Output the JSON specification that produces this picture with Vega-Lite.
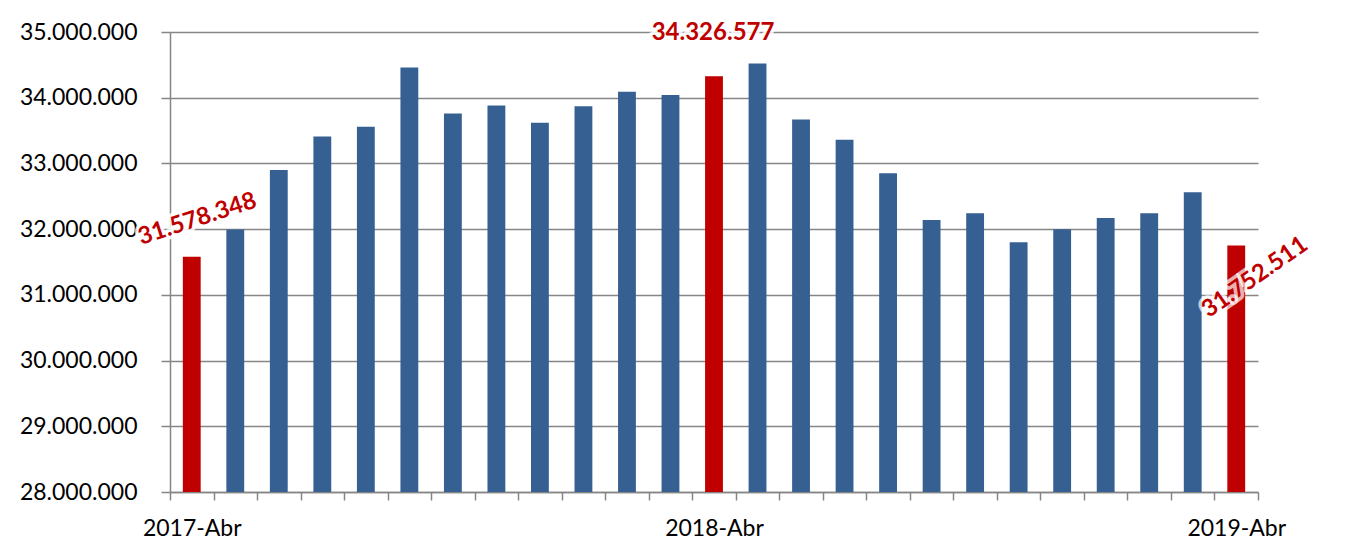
{
  "$schema": "https://vega.github.io/schema/vega-lite/v6.json",
  "width": 1088,
  "height": 460,
  "autosize": {"type": "none"},
  "padding": {"left": 170, "top": 32, "right": 110, "bottom": 60},
  "background": "white",
  "config": {
    "locale": {"number": {"decimal": ",", "thousands": ".", "grouping": [3], "currency": ["", " €"]}},
    "view": {"stroke": null},
    "font": "Lato"
  },
  "data": {
    "values": [
      {"mes": "2017-Abr", "valor": 31578348, "tipo": "destacado"},
      {"mes": "2017-May", "valor": 31995000, "tipo": "normal"},
      {"mes": "2017-Jun", "valor": 32900000, "tipo": "normal"},
      {"mes": "2017-Jul", "valor": 33410000, "tipo": "normal"},
      {"mes": "2017-Ago", "valor": 33560000, "tipo": "normal"},
      {"mes": "2017-Sep", "valor": 34460000, "tipo": "normal"},
      {"mes": "2017-Oct", "valor": 33760000, "tipo": "normal"},
      {"mes": "2017-Nov", "valor": 33880000, "tipo": "normal"},
      {"mes": "2017-Dic", "valor": 33620000, "tipo": "normal"},
      {"mes": "2018-Ene", "valor": 33870000, "tipo": "normal"},
      {"mes": "2018-Feb", "valor": 34090000, "tipo": "normal"},
      {"mes": "2018-Mar", "valor": 34040000, "tipo": "normal"},
      {"mes": "2018-Abr", "valor": 34326577, "tipo": "destacado"},
      {"mes": "2018-May", "valor": 34520000, "tipo": "normal"},
      {"mes": "2018-Jun", "valor": 33670000, "tipo": "normal"},
      {"mes": "2018-Jul", "valor": 33360000, "tipo": "normal"},
      {"mes": "2018-Ago", "valor": 32850000, "tipo": "normal"},
      {"mes": "2018-Sep", "valor": 32140000, "tipo": "normal"},
      {"mes": "2018-Oct", "valor": 32240000, "tipo": "normal"},
      {"mes": "2018-Nov", "valor": 31800000, "tipo": "normal"},
      {"mes": "2018-Dic", "valor": 32000000, "tipo": "normal"},
      {"mes": "2019-Ene", "valor": 32170000, "tipo": "normal"},
      {"mes": "2019-Feb", "valor": 32240000, "tipo": "normal"},
      {"mes": "2019-Mar", "valor": 32560000, "tipo": "normal"},
      {"mes": "2019-Abr", "valor": 31752511, "tipo": "destacado"}
    ]
  },
  "encoding": {
    "x": {
      "field": "mes",
      "type": "ordinal",
      "sort": null,
      "scale": {"paddingInner": 0, "paddingOuter": 0},
      "axis": {
        "title": null,
        "labelAngle": 0,
        "labelExpr": "(datum.value == '2017-Abr' || datum.value == '2018-Abr' || datum.value == '2019-Abr') ? datum.value : ''",
        "tickBand": "extent",
        "grid": false,
        "domainColor": "#868686",
        "domainWidth": 1.5,
        "tickColor": "#868686",
        "tickWidth": 1.5,
        "tickSize": 8,
        "labelFont": "Lato",
        "labelFontSize": 23,
        "labelColor": "#000000",
        "labelPadding": 17
      }
    },
    "y": {
      "field": "valor",
      "type": "quantitative",
      "scale": {"domain": [28000000, 35000000], "zero": false, "nice": false},
      "axis": {
        "title": null,
        "values": [28000000, 29000000, 30000000, 31000000, 32000000, 33000000, 34000000, 35000000],
        "format": ",d",
        "gridColor": "#868686",
        "gridWidth": 1.5,
        "domainColor": "#868686",
        "domainWidth": 1.5,
        "tickColor": "#868686",
        "tickWidth": 1.5,
        "tickSize": 9,
        "labelPadding": 24,
        "labelFont": "Lato",
        "labelFontSize": 23,
        "labelColor": "#000000"
      }
    }
  },
  "layer": [
    {
      "mark": {"type": "bar", "width": {"band": 0.41}},
      "encoding": {
        "y2": {"datum": 28000000},
        "color": {
          "field": "tipo",
          "type": "nominal",
          "scale": {"domain": ["destacado", "normal"], "range": ["#C00000", "#376092"]},
          "legend": null
        }
      }
    },
    {
      "transform": [{"filter": "datum.mes == '2017-Abr'"}],
      "mark": {"type": "text", "angle": 342, "dx": 17, "dy": -34, "font": "Lato", "fontWeight": "bold", "fontSize": 24, "align": "center", "baseline": "middle", "fill": "white", "stroke": "white", "strokeWidth": 7, "strokeOpacity": 0.85},
      "encoding": {"text": {"field": "valor", "type": "quantitative", "format": ",d"}}
    },
    {
      "transform": [{"filter": "datum.mes == '2017-Abr'"}],
      "mark": {"type": "text", "angle": 342, "dx": 17, "dy": -34, "font": "Lato", "fontWeight": "bold", "fontSize": 24, "align": "center", "baseline": "middle", "color": "#C00000"},
      "encoding": {"text": {"field": "valor", "type": "quantitative", "format": ",d"}}
    },
    {
      "transform": [{"filter": "datum.mes == '2018-Abr'"}],
      "mark": {"type": "text", "dx": -1, "dy": -43, "font": "Lato", "fontWeight": "bold", "fontSize": 24, "align": "center", "baseline": "middle", "fill": "white", "stroke": "white", "strokeWidth": 7, "strokeOpacity": 0.85},
      "encoding": {"text": {"field": "valor", "type": "quantitative", "format": ",d"}}
    },
    {
      "transform": [{"filter": "datum.mes == '2018-Abr'"}],
      "mark": {"type": "text", "dx": -1, "dy": -43, "font": "Lato", "fontWeight": "bold", "fontSize": 24, "align": "center", "baseline": "middle", "color": "#C00000"},
      "encoding": {"text": {"field": "valor", "type": "quantitative", "format": ",d"}}
    },
    {
      "transform": [{"filter": "datum.mes == '2019-Abr'"}],
      "mark": {"type": "text", "angle": 325, "dx": -3, "dy": 37, "font": "Lato", "fontWeight": "bold", "fontSize": 24, "align": "center", "baseline": "middle", "fill": "white", "stroke": "white", "strokeWidth": 7, "strokeOpacity": 0.7},
      "encoding": {"text": {"field": "valor", "type": "quantitative", "format": ",d"}}
    },
    {
      "transform": [{"filter": "datum.mes == '2019-Abr'"}],
      "mark": {"type": "text", "angle": 325, "dx": -3, "dy": 37, "font": "Lato", "fontWeight": "bold", "fontSize": 24, "align": "center", "baseline": "middle", "color": "#C00000"},
      "encoding": {"text": {"field": "valor", "type": "quantitative", "format": ",d"}}
    }
  ]
}
